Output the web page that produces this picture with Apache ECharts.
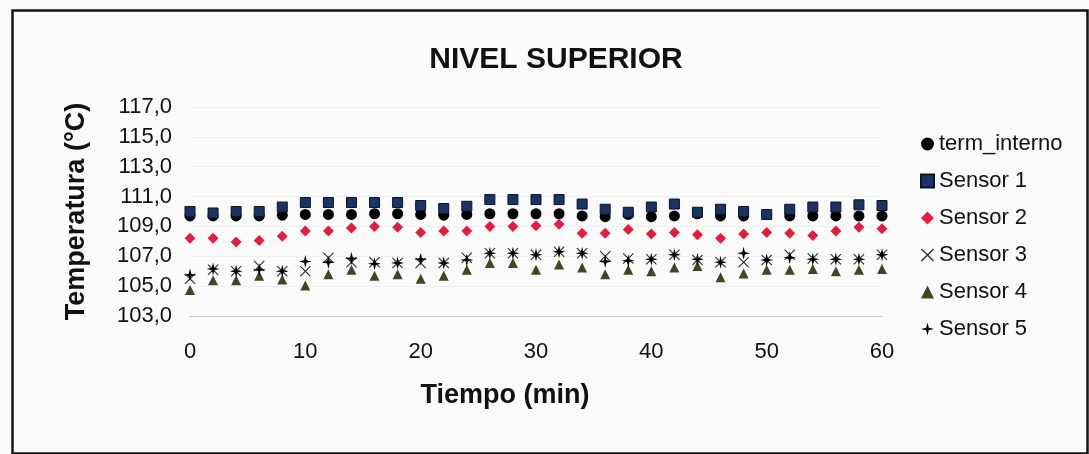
<!DOCTYPE html>
<html>
<head>
<meta charset="utf-8">
<script src="https://cdn.jsdelivr.net/npm/echarts@6/dist/echarts.min.js"></script>
<style>
html,body{margin:0;padding:0;background:#fafafa;}
#chart{width:1089px;height:454px;}
</style>
</head>
<body>
<div id="chart"></div>
<script>
const times = [0,2,4,6,8,10,12,14,16,18,20,22,24,26,28,30,32,34,36,38,40,42,44,46,48,50,52,54,56,58,60];
const termInterno = [109.7,109.7,109.7,109.7,109.75,109.8,109.8,109.8,109.85,109.85,109.8,109.75,109.8,109.85,109.85,109.85,109.85,109.7,109.65,109.8,109.65,109.7,109.85,109.7,109.7,109.8,109.7,109.7,109.7,109.7,109.7];
const sensor1 = [110.0,109.9,110.0,110.0,110.3,110.6,110.6,110.6,110.6,110.6,110.4,110.2,110.35,110.8,110.8,110.8,110.8,110.5,110.15,109.95,110.3,110.5,109.95,110.15,110.0,109.8,110.15,110.3,110.3,110.45,110.4];
const sensor2 = [108.2,108.2,107.95,108.05,108.35,108.7,108.7,108.9,109.0,108.95,108.6,108.7,108.7,109.0,109.0,109.05,109.15,108.55,108.55,108.8,108.5,108.6,108.45,108.2,108.5,108.6,108.55,108.4,108.7,108.95,108.85];
const sensor3 = [105.5,106.1,106.0,106.35,106.0,106.0,106.9,106.6,106.6,106.55,106.55,106.55,106.9,107.2,107.2,107.1,107.3,107.2,107.0,106.85,106.8,107.1,106.75,106.6,106.6,106.75,107.1,106.85,106.8,106.8,107.1];
const sensor4 = [104.75,105.4,105.4,105.7,105.45,105.05,105.8,106.1,105.7,105.8,105.5,105.7,106.1,106.55,106.55,106.1,106.45,106.25,105.8,106.1,106.0,106.25,106.35,105.6,105.85,106.1,106.1,106.15,106.0,106.1,106.15];
const sensor5 = [105.75,106.15,106.0,106.1,106.0,106.65,106.6,106.85,106.5,106.55,106.8,106.55,106.75,107.2,107.2,107.1,107.3,107.2,106.65,106.7,106.8,107.1,106.8,106.6,107.2,106.75,106.9,106.8,106.8,106.8,107.1];
const yTicks = [103,105,107,109,111,113,115,117];
const xTicks = [0,10,20,30,40,50,60];

const FONT = 'Liberation Sans, Arial, sans-serif';
const STAR = 'path://M5,0 L6,4 L10,5 L6,6 L5,10 L4,6 L0,5 L4,4 Z';
const XMARK = 'path://M0.7,0 L5,4.3 L9.3,0 L10,0.7 L5.7,5 L10,9.3 L9.3,10 L5,5.7 L0.7,10 L0,9.3 L4.3,5 L0,0.7 Z';

function pts(arr){ return times.map((t,i)=>[t, arr[i]]); }

const chart = echarts.init(document.getElementById('chart'));
chart.setOption({
  backgroundColor: '#fafafa',
  animation: false,
  title: {
    text: 'NIVEL SUPERIOR',
    left: 551, top: 40, textAlign: 'center',
    textStyle: {fontFamily: FONT, fontSize: 30, fontWeight: 'bold', color: '#111'}
  },
  grid: {left: 190, right: 207, top: 107, bottom: 138},
  legend: {
    orient: 'vertical', left: 915, top: 128,
    itemWidth: 13, itemHeight: 13, itemGap: 15,
    textStyle: {fontFamily: FONT, fontSize: 22, color: '#111'},
    data: ['term_interno','Sensor 1','Sensor 2','Sensor 3','Sensor 4','Sensor 5']
  },
  xAxis: {
    type: 'value', min: xTicks[0], max: xTicks[xTicks.length-1], interval: 10,
    name: 'Tiempo (min)', nameLocation: 'middle', nameGap: 66,
    nameTextStyle: {fontFamily: FONT, fontSize: 27, fontWeight: 'bold', color: '#111', padding: [0, 62, 0, 0]},
    axisLine: {show: true, lineStyle: {color: '#cccccc'}},
    axisTick: {show: false},
    splitLine: {show: false},
    axisLabel: {margin: 25, fontFamily: FONT, fontSize: 22, color: '#111'}
  },
  yAxis: {
    type: 'value', min: yTicks[0], max: yTicks[yTicks.length-1], interval: 2,
    name: 'Temperatura (°C)', nameLocation: 'middle', nameGap: 100,
    nameTextStyle: {fontFamily: FONT, fontSize: 27, fontWeight: 'bold', color: '#111'},
    axisLine: {show: false}, axisTick: {show: false},
    splitLine: {show: true, lineStyle: {color: '#efefef'}},
    axisLabel: {margin: 18, fontFamily: FONT, fontSize: 22, color: '#111',
      formatter: v => v.toFixed(1).replace('.', ',')}
  },
  series: [
    {name: 'term_interno', type: 'scatter', symbol: 'circle', symbolSize: 11,
     itemStyle: {color: '#000000', opacity: 1}, data: pts(termInterno), z: 2},
    {name: 'Sensor 1', type: 'scatter', symbol: 'rect', symbolSize: 10,
     itemStyle: {color: '#1a3362', borderColor: '#0a1429', borderWidth: 1, opacity: 1}, data: pts(sensor1), z: 3},
    {name: 'Sensor 2', type: 'scatter', symbol: 'diamond', symbolSize: 11,
     itemStyle: {color: '#e01f40', opacity: 1}, data: pts(sensor2), z: 3},
    {name: 'Sensor 3', type: 'scatter', symbol: XMARK, symbolSize: 11, symbolKeepAspect: true,
     itemStyle: {color: '#2a2a2a', opacity: 1}, data: pts(sensor3), z: 3},
    {name: 'Sensor 4', type: 'scatter', symbol: 'triangle', symbolSize: 10,
     itemStyle: {color: '#3b4822', opacity: 1}, data: pts(sensor4), z: 3},
    {name: 'Sensor 5', type: 'scatter', symbol: STAR, symbolSize: 13, symbolKeepAspect: true,
     itemStyle: {color: '#000000', opacity: 1}, data: pts(sensor5), z: 4}
  ],
  graphic: [
    {type: 'rect', left: 10, top: 8, shape: {width: 1075, height: 443},
     style: {fill: 'none', stroke: '#151515', lineWidth: 2.5}, silent: true}
  ]
});
</script>
</body>
</html>
